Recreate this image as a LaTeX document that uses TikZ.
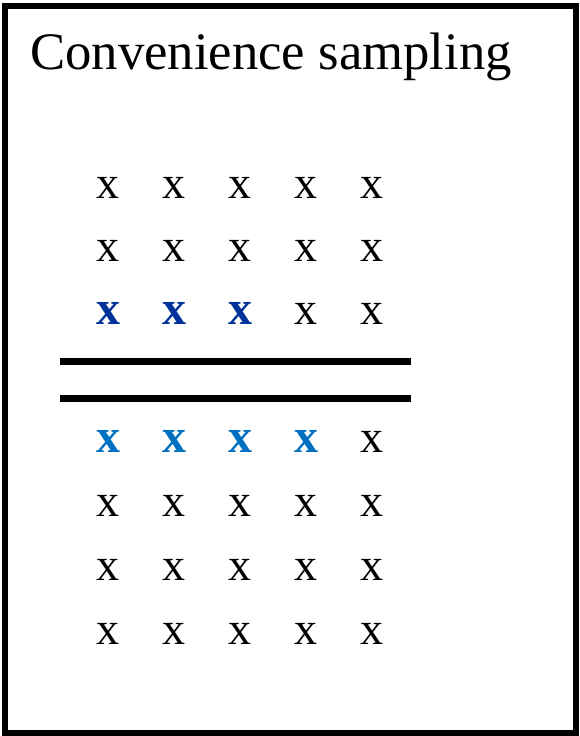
\documentclass[tikz,border=0pt]{standalone}
\usepackage{fontspec}
\setmainfont{Liberation Serif}
\usetikzlibrary{positioning}

\definecolor{darkpick}{RGB}{0,51,153}
\definecolor{lightpick}{RGB}{0,112,192}

\begin{document}
\begin{tikzpicture}[
    x=1pt,y=-1pt,
    frame/.style={draw=black,line width=6pt},
    divider/.style={draw=black,line width=6.5pt},
    heading/.style={inner sep=0pt,anchor=base west,font=\fontsize{52.7}{60}\selectfont},
    plain/.style={inner sep=0pt,anchor=base,font=\fontsize{46}{46}\selectfont},
    upper/.style={plain,text=darkpick,font=\fontsize{48}{48}\selectfont\bfseries},
    lower/.style={plain,text=lightpick,font=\fontsize{48}{48}\selectfont\bfseries}
  ]
    \useasboundingbox (0,0) rectangle (580,736);
    \draw[frame] (4.5,5.5) rectangle (576,732.5);
    \node[heading] (title) at (30,69) {Convenience sampling};
    % grid of units (baselines)
    \foreach \yy [count=\r] in {198,261,324,452,516,580,644}{
      \foreach \xx [count=\c] in {108,174,240,306,372}{
        \def\st{plain}
        \ifnum\r=3 \ifnum\c<4 \def\st{upper}\fi\fi
        \ifnum\r=4 \ifnum\c<5 \def\st{lower}\fi\fi
        \node[\st] (u\r\c) at (\xx,\yy) {x};
      }
    }
    \draw[divider] (60,361.7) -- (410.7,361.7);
    \draw[divider] (60,398.3) -- (410.7,398.3);
  \end{tikzpicture}
\end{document}
